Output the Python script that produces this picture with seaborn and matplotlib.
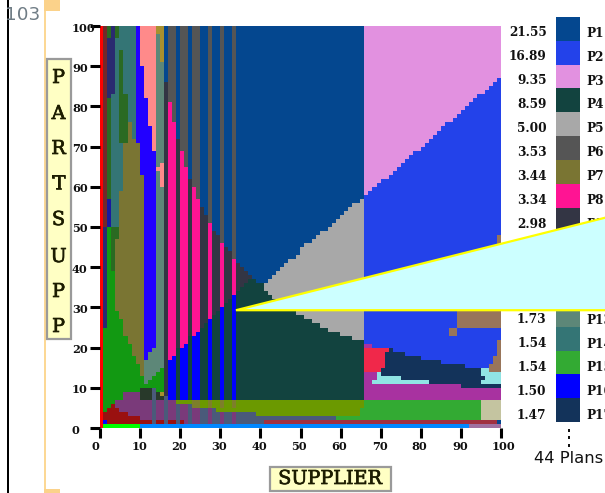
import numpy as np
import matplotlib
matplotlib.use("Agg")
import matplotlib.pyplot as plt
import matplotlib.patheffects as pe
from matplotlib.colors import ListedColormap
from matplotlib.patches import Rectangle, Polygon
from matplotlib.transforms import ScaledTranslation
import seaborn as sns

# ---- colours of the plans -------------------------------------------------
PLAN_COLOURS = {
    "P1": "#04478f", "P2": "#2342ea", "P3": "#e291e0", "P4": "#12433f",
    "P5": "#a8a8a8", "P6": "#555555", "P7": "#7a7533", "P8": "#ff1493",
    "P9": "#333544", "P10": "#98755a", "P11": "#ff8a8a", "P12": "#a8902f",
    "P13": "#5d8778", "P14": "#347575", "P15": "#33aa33", "P16": "#0000ff",
    "P17": "#13335a",
    "red": "#ff0000", "rust": "#74282a", "dgreen": "#2a6a22", "navy": "#2a2a70",
    "blue2": "#1818a0", "blue": "#2200ff", "green": "#129912",
    "dred": "#9a1010", "mauve": "#7a3a7a", "slate": "#4a5a7a",
    "olgreen": "#6b9900", "olbrown": "#7d7f2a", "tan": "#c4c4a0", "purple": "#a832a0",
    "crimson": "#f0284a", "cyan": "#90e4e4", "lime": "#00ff00",
    "azure": "#0088ff", "lilac": "#a070a0", "brick": "#a03040",
    "blackgreen": "#28392a",
}

# ---- columns 0..37: plan and lower bound of each segment, from the top -----
LEFT_COLUMNS = [
    [("red", 0)],
    [("rust", 50), ("navy", 25), ("green", 0)],
    [("dgreen", 97), ("navy", 82), ("dgreen", 57), ("blue2", 50), ("green", 0)],
    [("navy", 83), ("P14", 50), ("dgreen", 39), ("green", 0)],
    [("dgreen", 97), ("P14", 50), ("dgreen", 47), ("P7", 29), ("green", 0)],
    [("P14", 94), ("dgreen", 71), ("P14", 59), ("P7", 27), ("green", 0)],
    [("P14", 83), ("dgreen", 71), ("P7", 23), ("green", 0)],
    [("P14", 76), ("P7", 21), ("green", 0)],
    [("P14", 72), ("P7", 18), ("green", 0)],
    [("blue", 71), ("P7", 16), ("green", 0)],
    [("P11", 90), ("blue", 63), ("P7", 13), ("green", 0)],
    [("P11", 82), ("blue", 17), ("P13", 11), ("green", 0)],
    [("P11", 75), ("blue", 19), ("P13", 12), ("green", 0)],
    [("P11", 69), ("blue", 20), ("P13", 13), ("green", 0)],
    [("P12", 98), ("P13", 65), ("P11", 64), ("P13", 14), ("green", 0)],
    [("P12", 91), ("P13", 66), ("P11", 60), ("P13", 15), ("green", 0)],
    [("P1", 86), ("P9", 8), ("P4", 0)],
    [("P6", 81), ("P8", 17), ("P16", 0)],
    [("P6", 76), ("P8", 18), ("P16", 0)],
    [("P1", 72), ("P9", 20), ("P4", 0)],
    [("P6", 69), ("P8", 20), ("P16", 0)],
    [("P6", 65), ("P8", 21), ("P16", 0)],
    [("P1", 62), ("P9", 23), ("P4", 0)],
    [("P6", 60), ("P8", 23), ("P16", 0)],
    [("P6", 57), ("P8", 24), ("P16", 0)],
    [("P1", 55), ("P9", 25), ("P4", 0)],
    [("P1", 53), ("P9", 26), ("P4", 0)],
    [("P6", 51), ("P8", 27), ("P16", 0)],
    [("P1", 49), ("P9", 28), ("P4", 0)],
    [("P1", 48), ("P9", 29), ("P4", 0)],
    [("P6", 46), ("P8", 30), ("P16", 0)],
    [("P1", 45), ("P9", 31), ("P4", 0)],
    [("P1", 44), ("P9", 32), ("P4", 0)],
    [("P6", 42), ("P8", 33), ("P16", 0)],
    [("P1", 41), ("P9", 34), ("P4", 0)],
    [("P1", 40), ("P9", 35), ("P4", 0)],
    [("P1", 39), ("P9", 36), ("P4", 0)],
    [("P1", 38), ("P9", 37), ("P4", 0)],
]

# ---- stepped boundaries ---------------------------------------------------
P4_TOP_38_40 = [37, 36, 36]
P5_TOP_41_65 = [36, 37, 38, 39, 40, 41, 42, 42, 43, 45, 46, 46, 47, 48, 49, 49,
                50, 51, 52, 53, 54, 55, 56, 56, 57]
P5_BOTTOM_41_65 = [34, 33, 32, 32, 31, 30, 30, 29, 28, 28, 27, 27, 26, 26, 25,
                   25, 24, 24, 24, 23, 23, 23, 22, 22, 22]
P2_TOP_66_99 = [58, 59, 60, 61, 62, 62, 63, 64, 65, 66, 67, 68, 69, 69, 70, 71,
                72, 73, 74, 75, 76, 76, 77, 78, 79, 80, 81, 82, 83, 83, 84, 85,
                86, 87]

# ---- blocks painted afterwards: (plan, first col, end col, low, high) ------
BLOCKS_RIGHT = [
    ("purple", 66, 90, 7, 11), ("purple", 90, 100, 7, 10),
    ("purple", 66, 69, 11, 14), ("purple", 66, 68, 20, 21),
    ("crimson", 66, 70, 14, 20), ("crimson", 70, 71, 15, 20),
    ("crimson", 71, 72, 19, 20),
    ("P17", 70, 71, 13, 15), ("P17", 71, 72, 13, 19), ("P17", 72, 73, 13, 20),
    ("P17", 73, 75, 13, 19), ("P17", 75, 76, 12, 19), ("P17", 76, 80, 12, 18),
    ("P17", 80, 82, 12, 17), ("P17", 82, 85, 11, 17), ("P17", 85, 90, 11, 16),
    ("P17", 90, 91, 10, 16), ("P17", 91, 95, 10, 15), ("P17", 95, 100, 10, 11),
    ("P17", 95, 96, 12, 13),
    ("cyan", 68, 69, 11, 12), ("cyan", 69, 70, 11, 14), ("cyan", 70, 75, 11, 13),
    ("cyan", 75, 82, 11, 12), ("cyan", 95, 100, 13, 15), ("cyan", 95, 100, 11, 12),
    ("cyan", 96, 100, 12, 13),
    ("P10", 89, 100, 25, 31), ("P10", 87, 89, 23, 25), ("P10", 99, 100, 14, 22),
    ("P10", 98, 99, 14, 18), ("P10", 97, 98, 14, 16), ("P10", 99, 100, 44, 48),
]
SLATE_STRIPES = [19, 22, 25, 26, 28, 29, 31, 32]
BROWN_STRIPES = [23, 24, 27, 30, 33]
BLOCKS_BOTTOM = [
    ("blackgreen", 8, 10, 7, 8), ("blackgreen", 10, 13, 7, 10),
    ("blackgreen", 14, 16, 7, 9), ("P12", 15, 16, 8, 9),
    ("mauve", 4, 34, 1, 7), ("mauve", 6, 10, 7, 9),
    ("slate", 34, 41, 1, 4), ("slate", 39, 59, 2, 3),
    ("dred", 1, 2, 2, 4), ("dred", 2, 3, 1, 5), ("dred", 3, 4, 1, 6),
    ("dred", 4, 5, 1, 5), ("dred", 5, 7, 1, 4), ("dred", 7, 10, 1, 3),
    ("dred", 10, 21, 1, 2), ("P16", 1, 2, 1, 2),
    ("slate", 13, 14, 1, 10), ("slate", 16, 17, 1, 8),
]
BLOCKS_BAND = [
    ("olgreen", 19, 23, 6, 7), ("olgreen", 23, 29, 5, 7),
    ("olgreen", 29, 39, 4, 7), ("olgreen", 39, 65, 3, 7), ("olgreen", 65, 66, 5, 7),
    ("P15", 59, 95, 2, 3), ("P15", 65, 66, 3, 5), ("P15", 66, 95, 3, 7),
    ("tan", 95, 100, 2, 7), ("brick", 41, 99, 1, 2), ("P1", 99, 100, 1, 2),
    ("lime", 1, 10, 0, 1), ("azure", 10, 92, 0, 1), ("lilac", 92, 100, 0, 1),
]

# ---- legend ----------------------------------------------------------------
LEGEND_PLANS = ["P1", "P2", "P3", "P4", "P5", "P6", "P7", "P8", "P9", "P10",
                "P11", "P12", "P13", "P14", "P15", "P16", "P17"]
LEGEND_VALUES = ["21.55", "16.89", "9.35", "8.59", "5.00", "3.53", "3.44",
                 "3.34", "2.98", None, None, None, "1.73", "1.54", "1.54",
                 "1.50", "1.47"]
TICK_VALUES = [0, 10, 20, 30, 40, 50, 60, 70, 80, 90, 100]
CALLOUT_TIP = (34, 29.3)

# ---- build the grid --------------------------------------------------------
keys = list(PLAN_COLOURS)
code = {k: i for i, k in enumerate(keys)}
grid = np.zeros((100, 100), dtype=float)
grid[:, :66] = code["P1"]
grid[:, 66:] = code["P3"]
for c, stack in enumerate(LEFT_COLUMNS):
    top = 100
    for plan, low in stack:
        grid[low:top, c] = code[plan]
        top = low
for i, top in enumerate(P4_TOP_38_40):
    grid[:top, 38 + i] = code["P4"]
for i, (top, bot) in enumerate(zip(P5_TOP_41_65, P5_BOTTOM_41_65)):
    grid[:bot, 41 + i] = code["P4"]
    grid[bot:top, 41 + i] = code["P5"]
for i, top in enumerate(P2_TOP_66_99):
    grid[:top, 66 + i] = code["P2"]
for plan, c0, c1, lo, hi in BLOCKS_RIGHT + BLOCKS_BOTTOM:
    grid[lo:hi, c0:c1] = code[plan]
for c in SLATE_STRIPES:
    grid[1:7, c] = code["slate"]
for plan, c0, c1, lo, hi in BLOCKS_BAND:
    grid[lo:hi, c0:c1] = code[plan]
for c in BROWN_STRIPES:
    grid[5:7, c] = code["olbrown"]

cmap = ListedColormap([PLAN_COLOURS[k] for k in keys])
W, H = 605, 493
fig = plt.figure(figsize=(W / 100, H / 100), dpi=100, facecolor="white")
SERIF = "DejaVu Serif"
TICK_FONT = dict(family=SERIF, fontweight="bold", fontsize=8.2, color="#111111")

ax = fig.add_axes([100 / W, 1 - 428 / H, 401 / W, 402 / H])
sns.heatmap(grid, ax=ax, cmap=cmap, vmin=-0.5, vmax=len(keys) - 0.5, cbar=False,
            xticklabels=False, yticklabels=False)
ax.set_xlim(0.15, 100)
ax.set_ylim(0, 100)
xpos = 0.15 + np.array(TICK_VALUES) * (100 - 0.15) / 100
ax.set_xticks(xpos)
ax.set_xticklabels([str(t) for t in TICK_VALUES], **TICK_FONT)
ax.set_yticks(TICK_VALUES)
ax.set_yticklabels([str(t) for t in TICK_VALUES], **TICK_FONT)
ax.tick_params(axis="x", length=7.2, width=2.2, pad=2.5, color="black", rotation=0)
ax.tick_params(axis="y", length=7.2, width=2.2, pad=13.0, color="black", rotation=0)
shift_x = ScaledTranslation(-9 / 100, 0, fig.dpi_scale_trans)
shift_y = ScaledTranslation(0, -2 / 100, fig.dpi_scale_trans)
for lab in ax.get_xticklabels():
    lab.set_ha("left")
    lab.set_transform(lab.get_transform() + shift_x)
for lab in ax.get_yticklabels():
    lab.set_ha("left")
    lab.set_va("center")
    lab.set_transform(lab.get_transform() + shift_y)
for s in ax.spines.values():
    s.set_visible(False)

# legend as a heatmap of one column
lax = fig.add_axes([556 / W, 1 - 422 / H, 24 / W, 405 / H])
sns.heatmap(np.array([[code[p]] for p in LEGEND_PLANS], dtype=float), ax=lax,
            cmap=cmap, vmin=-0.5, vmax=len(keys) - 0.5, cbar=False,
            xticklabels=False, yticklabels=False)
lax.set_axis_off()

# page layer in pixel coordinates
pg = fig.add_axes([0, 0, 1, 1], zorder=5, facecolor="none")
pg.set_xlim(0, W)
pg.set_ylim(H, 0)
pg.set_axis_off()

LEG_FONT = dict(family=SERIF, fontweight="bold", fontsize=8.7, color="#111111")
for i, (p, v) in enumerate(zip(LEGEND_PLANS, LEGEND_VALUES)):
    y = 32.8 + i * 23.9
    if v is None:
        continue
    pg.text(546.5, y, v, ha="right", va="center", **LEG_FONT)
    pg.text(586, y + 0.5, p, ha="left", va="center", clip_on=True, **LEG_FONT)

# callout from the tip of the plot to the right border
tip_px = ax.transData.transform(CALLOUT_TIP)
tip_x = tip_px[0]
tip_y = H - tip_px[1]
pg.add_patch(Polygon([(tip_x, tip_y), (W + 5, 216.5), (W + 5, tip_y)], closed=True,
                     facecolor="#ccffff", edgecolor="#ffff00", linewidth=1.6,
                     joinstyle="miter", zorder=6))

# decorations
pg.add_patch(Rectangle((7, 0), 2.2, H, facecolor="black", edgecolor="none"))
pg.text(5, 15, "103", color="#6f7c85", fontsize=13.2, family="DejaVu Sans",
        ha="left", va="center")
pg.add_patch(Rectangle((44, 0), 2.2, H, facecolor="#fcd895", edgecolor="none"))
pg.add_patch(Rectangle((44, 0), 16, 11, facecolor="#fbd28a", edgecolor="none"))
pg.add_patch(Rectangle((44, 489), 16, 4, facecolor="#fbd28a", edgecolor="none"))

BOX = dict(facecolor="#ffffc4", edgecolor="#9a9a9a", linewidth=1.6)
pg.add_patch(Rectangle((46.5, 59), 24, 280, **BOX))
pg.add_patch(Rectangle((270, 467), 120.5, 24, **BOX))
TITLE_FONT = dict(family=SERIF, fontsize=13.8, color="#1c1c00",
                  ha="center", va="center",
                  path_effects=[pe.withStroke(linewidth=0.5, foreground="#1c1c00")])
for letter, y in zip("PARTSUPP", [78, 114, 149, 184, 220, 257, 292, 327]):
    pg.text(58.5, y, letter, **TITLE_FONT)
pg.text(330, 479, "SUPPLIER", **TITLE_FONT)

for y in [430.5, 437.5, 445]:
    pg.add_patch(Rectangle((567.5, y - 1.3), 2.8, 2.8, facecolor="#111111", edgecolor="none"))
pg.text(534, 458.5, "44 Plans", family="DejaVu Sans", fontsize=11.8, color="#111111",
        ha="left", va="center")

fig.savefig("out.png", dpi=100)
